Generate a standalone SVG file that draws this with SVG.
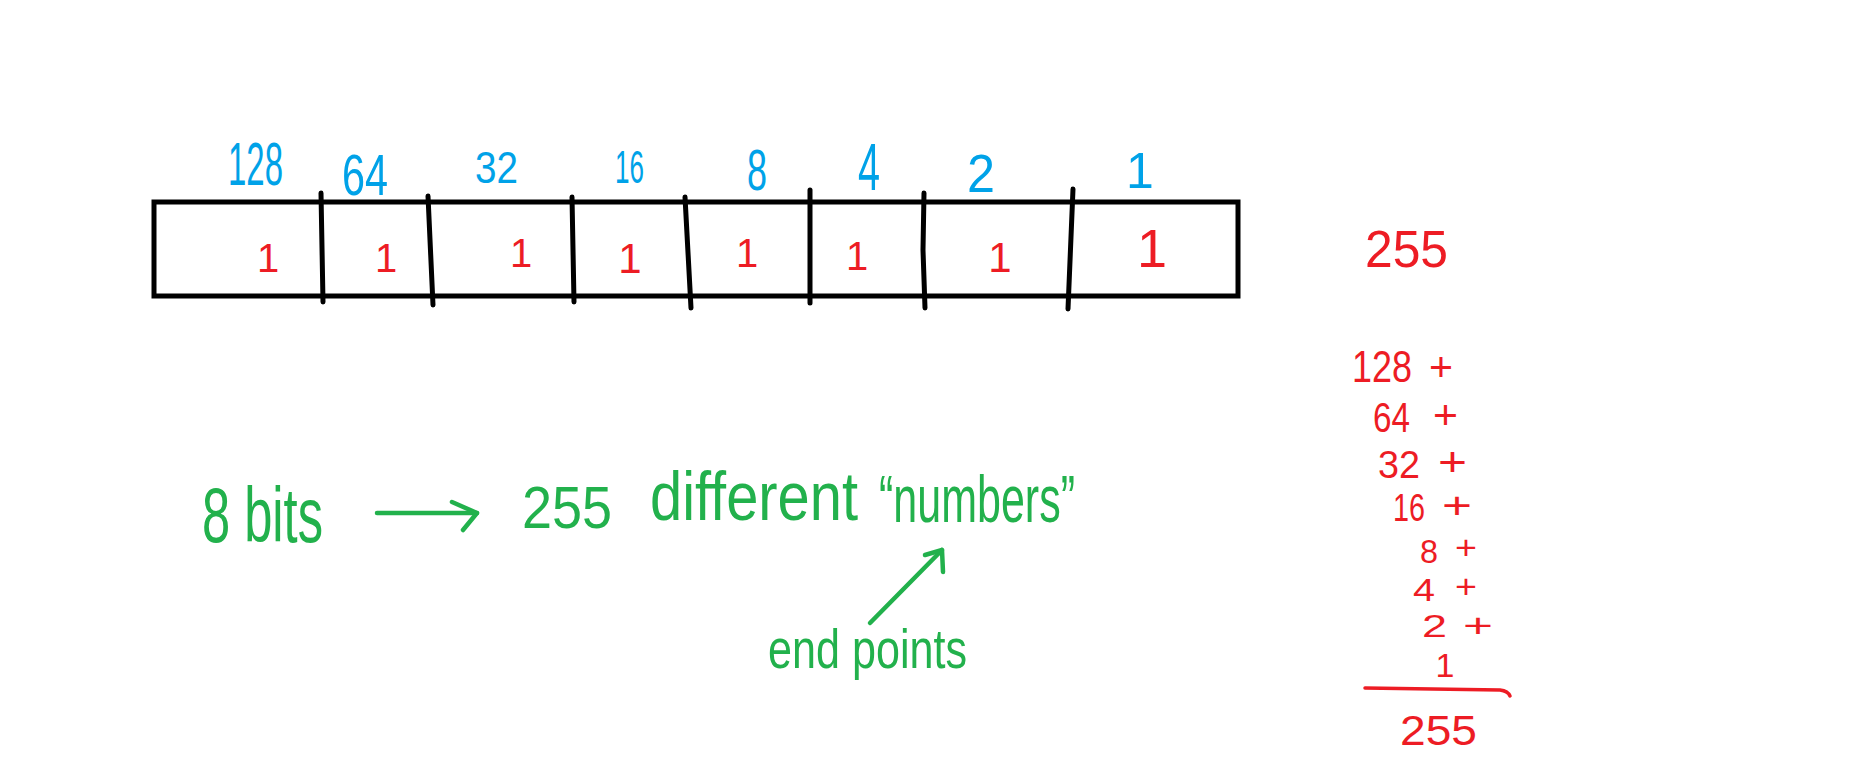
<svg xmlns="http://www.w3.org/2000/svg" width="1853" height="771" viewBox="0 0 1853 771">
<style>
text{font-family:"Liberation Sans",Arial,sans-serif;}
.b{fill:#00A2E8;}
.r{fill:#ED1C24;}
.g{fill:#22B14C;}
.box{fill:none;stroke:#000;stroke-width:5;}
.div{stroke:#000;stroke-width:5;stroke-linecap:round;fill:none;}
.gl{stroke:#22B14C;stroke-width:4.5;stroke-linecap:round;stroke-linejoin:round;fill:none;}
.rl{stroke:#ED1C24;stroke-width:3.5;stroke-linecap:round;fill:none;}
</style>
<rect width="1853" height="771" fill="#fff"/>

<g id="byte-box">
<rect class="box" x="154" y="202" width="1084" height="94"/>
<path class="div" d="M321,193 L323,302"/>
<path class="div" d="M428,196 L433,305"/>
<path class="div" d="M572,197 L574,302"/>
<path class="div" d="M685,197 L691,308"/>
<path class="div" d="M810,190 L810,303"/>
<path class="div" d="M924,193 L923,250 L925,308"/>
<path class="div" d="M1073,189 L1068,309"/>
</g>

<g id="place-values">
<text class="b" x="228" y="185" font-size="62" textLength="55" lengthAdjust="spacingAndGlyphs">128</text>
<text class="b" x="342" y="195" font-size="58" textLength="46" lengthAdjust="spacingAndGlyphs">64</text>
<text class="b" x="475" y="183" font-size="44" textLength="43" lengthAdjust="spacingAndGlyphs">32</text>
<text class="b" x="615" y="183" font-size="46" textLength="29" lengthAdjust="spacingAndGlyphs">16</text>
<text class="b" x="747" y="190" font-size="58" textLength="20" lengthAdjust="spacingAndGlyphs">8</text>
<text class="b" x="858" y="190" font-size="66" textLength="22" lengthAdjust="spacingAndGlyphs">4</text>
<text class="b" x="967" y="192" font-size="54" textLength="28" lengthAdjust="spacingAndGlyphs">2</text>
<text class="b" x="1140" y="188" font-size="50" text-anchor="middle">1</text>
</g>

<g id="bits">
<text class="r" x="268" y="272" font-size="40" text-anchor="middle">1</text>
<text class="r" x="386" y="272" font-size="40" text-anchor="middle">1</text>
<text class="r" x="521" y="267" font-size="40" text-anchor="middle">1</text>
<text class="r" x="630" y="273" font-size="42" text-anchor="middle">1</text>
<text class="r" x="747" y="267" font-size="40" text-anchor="middle">1</text>
<text class="r" x="857" y="270" font-size="40" text-anchor="middle">1</text>
<text class="r" x="1000" y="272" font-size="42" text-anchor="middle">1</text>
<text class="r" x="1152" y="267" font-size="54" text-anchor="middle">1</text>
</g>

<g id="total">
<text class="r" x="1365" y="267" font-size="52" textLength="83" lengthAdjust="spacingAndGlyphs">255</text>
</g>

<g id="sum">
<text class="r" x="1352" y="382" font-size="45" textLength="60" lengthAdjust="spacingAndGlyphs">128</text>
<text class="r" x="1429" y="381" font-size="40" textLength="24" lengthAdjust="spacingAndGlyphs">+</text>
<text class="r" x="1373" y="432" font-size="42" textLength="37" lengthAdjust="spacingAndGlyphs">64</text>
<text class="r" x="1433" y="429" font-size="40" textLength="25" lengthAdjust="spacingAndGlyphs">+</text>
<text class="r" x="1378" y="478" font-size="38" textLength="42" lengthAdjust="spacingAndGlyphs">32</text>
<text class="r" x="1438" y="476" font-size="40" textLength="29" lengthAdjust="spacingAndGlyphs">+</text>
<text class="r" x="1393" y="521" font-size="38" textLength="32" lengthAdjust="spacingAndGlyphs">16</text>
<text class="r" x="1442" y="518" font-size="36" textLength="30" lengthAdjust="spacingAndGlyphs">+</text>
<text class="r" x="1420" y="563" font-size="34" textLength="18" lengthAdjust="spacingAndGlyphs">8</text>
<text class="r" x="1455" y="559" font-size="34" textLength="22" lengthAdjust="spacingAndGlyphs">+</text>
<text class="r" x="1413" y="601" font-size="32" textLength="22" lengthAdjust="spacingAndGlyphs">4</text>
<text class="r" x="1455" y="598" font-size="34" textLength="22" lengthAdjust="spacingAndGlyphs">+</text>
<text class="r" x="1422" y="637" font-size="31" textLength="25" lengthAdjust="spacingAndGlyphs">2</text>
<text class="r" x="1463" y="637" font-size="34" textLength="30" lengthAdjust="spacingAndGlyphs">+</text>
<text class="r" x="1445" y="677" font-size="34" text-anchor="middle">1</text>
<path class="rl" d="M1365,688 L1500,690 Q1508,691 1510,696"/>
<text class="r" x="1400" y="745" font-size="42" textLength="77" lengthAdjust="spacingAndGlyphs">255</text>
</g>

<g id="bits-label">
<text class="g" x="202" y="542" font-size="78" textLength="121" lengthAdjust="spacingAndGlyphs">8 bits</text>
</g>

<g id="numbers-label">
<text class="g" x="522" y="528" font-size="60" textLength="90" lengthAdjust="spacingAndGlyphs">255</text>
<text class="g" x="650" y="520" font-size="68" textLength="208" lengthAdjust="spacingAndGlyphs">different</text>
<text class="g" x="879" y="522" font-size="66" textLength="196" lengthAdjust="spacingAndGlyphs">“numbers”</text>
</g>

<g id="endpoints-label">
<text class="g" x="768" y="668" font-size="56" textLength="199" lengthAdjust="spacingAndGlyphs">end points</text>
</g>

<g id="connectors">
<path class="gl" d="M377,513 L477,513"/>
<path class="gl" d="M452,502 L477,513 L463,530"/>
<path class="gl" d="M870,623 L942,550"/>
<path class="gl" d="M925,555 L942,550 L943,572"/>
</g>
</svg>
